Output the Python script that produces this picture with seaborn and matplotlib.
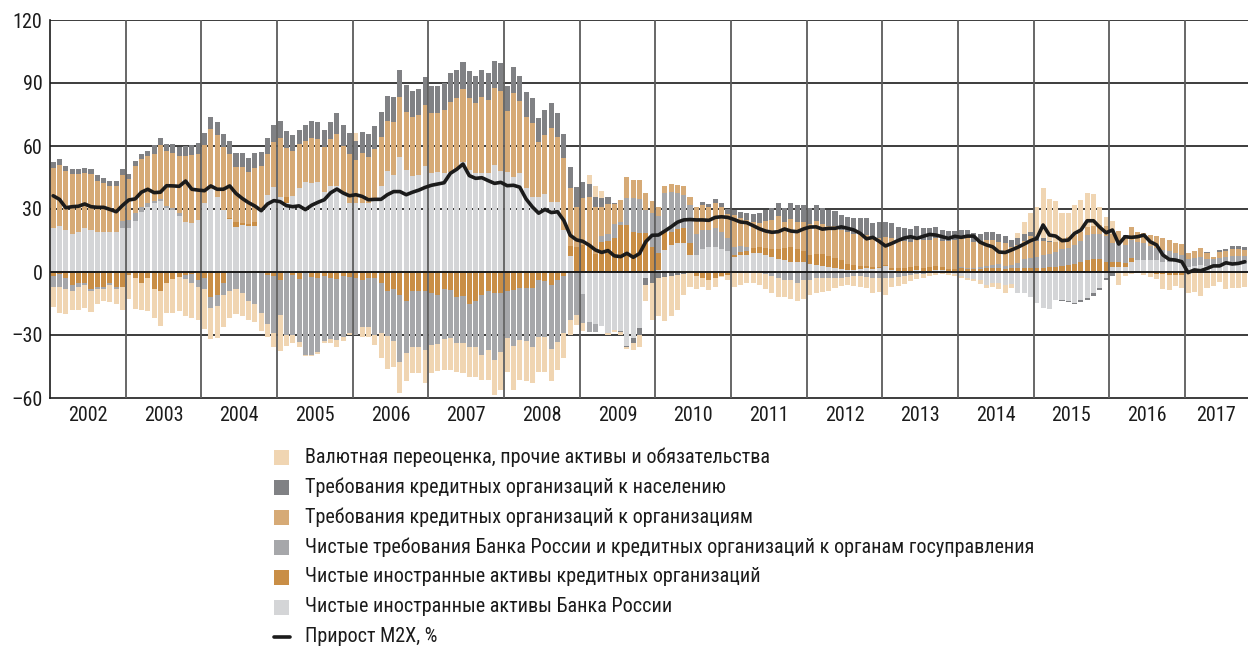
import numpy as np
import matplotlib
matplotlib.use("Agg")
import matplotlib.pyplot as plt
from matplotlib import font_manager
from matplotlib.patches import Rectangle
from matplotlib.lines import Line2D
import seaborn as sns

# ---------------- data (monthly, Jan 2002 - Oct 2017), contributions, p.p. ----------------
years = list(range(2002, 2018))

# Чистые иностранные активы Банка России
nfa_cbr = [21, 22, 20, 18, 19, 21, 20, 19, 19, 19, 19, 21,
           20.8, 24.4, 28.5, 31, 32.7, 34, 30.5, 29.5, 26.5, 24, 23.5, 25,
           32.7, 39.5, 35.9, 29.5, 25.2, 21.6, 22.5, 21.9, 22, 29.5, 36.7, 40.6,
           35.5, 33, 36, 40, 43, 42.5, 43, 38, 41, 41, 37, 33,
           33, 32.7, 33, 35, 41, 48, 46, 55, 48.6, 45.7, 46, 50.5,
           47, 47.5, 47, 47.8, 48.6, 52.5, 48.6, 47, 47.3, 47, 51, 48.3,
           47.8, 45.4, 47.3, 40.2, 35.9, 35.9, 37, 33.5, 33.5, 20, 7.5, 0,
           -10.6, -23.7, -24.6, -25.5, -29, -27.6, -28, -35, -31.6, -26.8, -3, 0,
           1, 10.5, 12.9, 13.6, 14, 8.1, 8, 11, 12, 12, 11, 10,
           7, 8, 8, 9, 9, 8, 7, 6, 5.5, 5, 5, 5,
           4, 3.5, 3, 2.5, 2, 1.5, 1, 1, 1.5, 2, 1.5, 2,
           3, 1, 0.5, 0.5, 0.5, 1, 0.5, 0.5, 1, 1, 0, -1,
           -2, -3, -3.5, -4, -6, -5, -5, -6, -5.5, -10, -10, -12,
           -14.6, -17.3, -17.8, -13.3, -13.3, -14, -14.6, -13.3, -12.5, -10.2, -7.8, -3,
           2.5, 2.5, 2.5, 5, 5.5, 5.5, 5.5, 5.5, 5, 5, 5, 5,
           2.5, 3, 3.3, 3, 3, 3, 3.5, 4, 4, 4]

# Чистые иностранные активы кредитных организаций
nfa_banks = [-2, -1, -3, -6, -5, -5, -8, -7, -7, -5, -7, -7,
             -1.4, -3, -5, -3, -8.3, -9, -5.4, -3.2, -2.2, -1.4, -1, -4,
             -3, -12, -11, -5, 0.5, 2, 1, 1, 2, -0.5, -1.5, -2,
             -3.8, 2.5, -1.5, -3.5, -0.5, -2.5, -3, -2, -3, -3.5, -2, -2.5,
             -3, -4, -3, -3, -5, -9, -8, -11, -14, -9, -9, -9,
             -10, -11, -8, -8.6, -12, -11.4, -15, -14, -11, -9, -10, -10,
             -9, -8.5, -7.5, -7.5, -7.5, -4, -4.5, -6, -4, -2, 5, 12,
             12.9, 13.5, 8.4, 14.4, 14.8, 16.4, 22.3, 22.4, 19.2, 18.7, 18.7, 12,
             8, 8.7, 6.3, 7.1, 6.8, 5.6, -2, -3, -4, -3, -2, -1.5,
             1, 1.5, 2, 2.5, 3, 3.5, 4, 5, 6, 7, 6, 5,
             4, 5, 5.5, 5, 4.5, 4, 3, 2.5, 1.5, 1, 1, 0.5,
             0.5, 1, 1.5, 1.5, 2, 2, 1.5, 2, 2, 1.5, 1.5, 1.5,
             2, 1.5, 1.5, 1.5, 2, 2, 2, 1.5, 2, 2, 2, 2,
             2, 2, 2.5, 2.5, 3, 3.5, 4, 5, 5.5, 6, 6, 5,
             2.4, 2.4, 2, 1.6, 0, 0, -0.5, -1, -1, -1.5, -1.5, -1.5,
             0, -0.5, -0.5, -0.5, -0.5, -0.5, -0.5, -0.5, -0.5, -0.5]

# Чистые требования Банка России и кредитных организаций к органам госуправления
gov = [-5, -6, -5, -3, -2, -1, -1, -1, -1, -1, -1, 3.5,
       4, 3.5, 2.5, 2, 1.3, 1, 1, 1, 1.5, -2, -4, -3,
       -5, -5, -5, -6, -9, -8, -10, -14, -15, -19, -23.3, -26.9,
       -16.7, -30, -28.5, -30, -39, -37, -35, -30.7, -28.7, -28.9, -29, -26.5,
       -27, -22, -23, -27, -24, -21.5, -25, -31.7, -24.7, -26.5, -26.5, -28,
       -24.8, -23.3, -24, -23, -22, -22.6, -20.5, -21.9, -28.5, -28, -31.9, -28,
       -22.6, -26.7, -24.9, -25.2, -28.4, -27.1, -26.3, -30.8, -29.2, -27.2, -23, -20.5,
       -13.5, -5, -4, 2.7, 3.2, 6.3, 1.6, 12.7, 15.9, 16.3, 10.6, 16,
       17.5, 18.3, 19, 16.7, 15.9, 18.3, 10, 9, 8, 9, 8, 6,
       4, 3, 2, 0, 0, -1, -2, -3, -4, -4, -5, -4,
       -4, -3, -3, -3, -3, -3, -2.5, -2, -2, -2.5, -3, -3,
       -3, -3, -2.5, -2, -1.5, -1, -1, -0.5, -0.5, 0, 0, 0,
       0.5, 0.5, 0.5, 1, 1, 1.5, 2, 1.5, 1.5, 2.5, 4, 4.5,
       5, 6, 6, 7, 8, 8, 9, 10, 12, 12, 12, 12,
       9, 9.8, 8.3, 8.7, 8.7, 8.3, 6.7, 5.9, 5.6, 4.8, 4, 3.2,
       3.5, 3.7, 4, 3.3, 3, 3.5, 3.5, 3.5, 3.5, 3.5]

# Требования кредитных организаций к организациям
corp = [28.3, 28.9, 27.9, 28.8, 27.8, 26.2, 26.8, 24.5, 23.3, 22, 22, 21.9,
        19.5, 22.6, 22.8, 22.3, 22.3, 25.4, 26.1, 26.3, 27.1, 31.4, 32.2, 31.2,
        27.8, 28.5, 29.4, 29.8, 30.3, 26.5, 26.6, 24.6, 25.5, 20.8, 19.7, 21.4,
        28.1, 23.7, 21.6, 20.9, 19.6, 21.5, 20.4, 21.4, 22.2, 24.8, 23, 23,
        20.5, 23.8, 21.6, 23.5, 23.3, 23.8, 25.5, 28.3, 27.7, 27.9, 28.8, 29,
        28.6, 28.1, 30, 33.3, 34.1, 34.5, 34.1, 33.3, 36.2, 34.9, 36.5, 38.1,
        28.8, 39.7, 34.3, 33.8, 34.9, 26.1, 28.4, 35.2, 30.7, 34.1, 27.3, 19,
        22.2, 22, 22.5, 13.8, 14.6, 9.5, 10.6, 10.3, 8.7, 8.7, 8.4, 6,
        4.5, 3.5, 3.7, 4, 4.4, 3.6, 12.8, 12, 11, 12, 12, 11.5,
        15, 13.2, 12.8, 12.1, 11.4, 13, 13.8, 15.5, 12.1, 13.2, 12.9, 13.9,
        14.8, 15.9, 14.3, 14.5, 15.2, 14.6, 15, 14.6, 15.1, 14.6, 13.2, 13.5,
        13, 14.2, 13.1, 12.8, 11.8, 12.9, 13.3, 12.8, 13.3, 12.5, 13.2, 13.7,
        13.5, 14, 12.4, 11.6, 12.1, 11.7, 10.5, 10.6, 8.5, 8.5, 9, 10.5,
        8, 7, 6, 5, 5, 5, 4.5, 4, 4, 4, 4.5, 5,
        4, 4.7, 4.3, 6, 5, 4.9, 5.4, 5.7, 5.4, 5.4, 4.7, 5,
        3.2, 3.2, 4, 2.7, 1.3, 3, 3, 3.5, 3.5, 3]

# Требования кредитных организаций к населению
households = [3.2, 2.8, 2.4, 2.2, 2.2, 2.2, 2.4, 2.5, 2.5, 2.3, 2.3, 2.5,
              2.4, 2.4, 2.4, 2.5, 4, 3.3, 3.5, 4, 4.6, 4.6, 4.6, 5.4,
              5.5, 5.7, 6, 6.3, 6.3, 6.7, 6.7, 6.8, 7, 7, 7.6, 8,
              8.4, 8.1, 7.6, 6.7, 7.6, 8, 7.9, 8.2, 8.4, 9.8, 10, 10,
              9, 10, 11, 11, 12, 12, 12, 12.7, 12.7, 12.7, 12.2, 13.5,
              13, 13, 13, 13.5, 13.5, 13, 13, 13, 12.7, 12.7, 13, 13,
              12, 12.4, 11.7, 11.9, 12.2, 11.3, 11.6, 11.9, 11.7, 11.6, 10, 9.6,
              7.6, 6.5, 4.8, 4.4, 2.9, 0.5, -0.5, -0.8, -2.4, -3.2, -3, -5,
              -3, -2.5, -2, -1.5, -1, -0.5, 0, 1.2, 1.6, 1.6, 2, 2.4,
              2.5, 3, 3.5, 4, 4.5, 5, 5.5, 6.5, 7, 7.5, 8, 8,
              7.5, 7.5, 7.5, 7.5, 7.5, 7, 7, 7.5, 7.5, 8, 7.5, 8,
              7.5, 7, 6.5, 6, 6, 6, 5.5, 5.5, 5, 5, 5, 4.5,
              4, 4, 4, 4, 3.8, 3.7, 3.6, 3.5, 3.2, 3, 3, 2,
              2, 1, 0.5, 0, -0.5, -0.5, -0.8, -1, -1, -1, -1, -0.8,
              -2, 0, 0.5, 0, 0, 0, 0, 0, 0, 0, 0, 0,
              0, 0, 0, 0.5, 0, 1, 1, 1.2, 1.2, 1.2]

# Валютная переоценка, прочие активы и обязательства
fx_other = [-9.5, -12.6, -12, -9, -11, -11, -10, -7, -6, -8.5, -7, -11,
            -11.6, -14.8, -13, -15.4, -13.7, -16.7, -14.3, -16.5, -16.4, -17.6, -17, -16,
            -19, -15, -15.5, -15, -13, -12, -11, -9, -9, -8.6, -6, -6.6,
            -17, -5, -4, -2, -0.5, -0.5, -1, -1, -2.3, -3.5, -1.7, -1,
            3.5, -5, -4.8, -4.8, -12, -15.5, -12, -15, -13.3, -12.5, -12.5, -16,
            -13.2, -12.7, -14.7, -15.1, -13.5, -14, -14.3, -13.9, -11.9, -14.4, -16.7, -18.2,
            -15.9, -21, -19, -19, -17.1, -16.4, -16.7, -15.2, -13.5, -11.8, -7, -4.7,
            -4, 4, 5.2, 3.5, -1, -1, -1.5, -1, -3.2, -5.5, -8, -18,
            -18, -21, -19, -16.5, -10, -6.7, -6, -4, -4.5, -4, -0.5, -2.5,
            -7, -6, -5, -5, -6, -7, -8, -9, -8, -9, -9, -9,
            -7, -7, -6.5, -6, -4.5, -3.5, -3.5, -4.5, -5, -5, -7, -6.4,
            -8, -4, -4, -3.5, -3, -2.5, -2, -1.5, -1, -1, -1.5, -1,
            -1, -1, -1, -1.5, -1.5, -2, -3, -4, -2, 2.4, 6, 8.9,
            13.8, 23.8, 20, 19.5, 12.3, 11.4, 14.4, 15.3, 16.3, 15.1, 8.3, 4.3,
            6.5, -6, -2, -1, -0.7, -1.4, -2, -2.5, -7, -7, -5, -6,
            -9.8, -8.9, -10.9, -7.3, -6.2, -4.1, -7.8, -7.3, -7.3, -6.8]

# Прирост М2Х, %
m2x = [36.3, 34.6, 30.6, 31.1, 31.3, 32.4, 31.1, 30.8, 30.8, 29.8, 28.7, 31.7,
       34.3, 34.8, 38, 39.4, 37.8, 38, 41.1, 41, 40.8, 43.3, 39.4, 39,
       38.7, 41, 39.4, 39.4, 41, 37.4, 35, 33, 31.4, 29.2, 32.4, 34,
       33.5, 31.6, 31.1, 31.5, 29.7, 31.8, 33.2, 34.4, 37.7, 39.5, 37.6, 36.3,
       36.8, 36, 34.4, 34.6, 34.6, 36.8, 38.3, 38.3, 36.8, 38, 39, 40.3,
       41.3, 41.9, 42.5, 47, 48.9, 51.4, 45.9, 44.6, 44.9, 43.5, 42.2, 42.7,
       41.1, 41.3, 40.4, 34.8, 31, 28, 29.8, 28.3, 28.7, 24.5, 17.5, 15.3,
       14.6, 12.8, 10.5, 9.3, 10.2, 7.7, 7.3, 8.9, 7, 8.8, 14.5, 17.5,
       17.6, 19.5, 21.5, 23.7, 24.8, 25, 24.8, 24.8, 24.6, 26, 26.3, 26,
       25, 23.8, 23.5, 22.1, 20.6, 19.5, 18.9, 19.2, 20.5, 19.5, 19.2, 20.5,
       21.4, 21.5, 20.4, 20.8, 20.8, 21.5, 20.8, 20, 18.4, 15.8, 16.5, 14.6,
       12.4, 13.6, 15, 16.2, 16.8, 16, 17, 17.9, 17.6, 16.8, 16, 17,
       16.5, 17.1, 17.1, 14.2, 12.9, 12, 9.5, 9.3, 10.5, 11.8, 13.3, 14.9,
       16, 22.4, 17.6, 17.1, 14.9, 15.2, 18.4, 20, 24.4, 24.4, 21.3, 18.7,
       20, 13.3, 16.8, 16.5, 16.8, 17.6, 14.4, 12.9, 8.1, 6, 5.7, 4.9,
       -0.3, 1, 0.6, 1.7, 2.9, 2.9, 4.4, 3.8, 4.1, 4.9]

labels = ["Валютная переоценка, прочие активы и обязательства",
          "Требования кредитных организаций к населению",
          "Требования кредитных организаций к организациям",
          "Чистые требования Банка России и кредитных организаций к органам госуправления",
          "Чистые иностранные активы кредитных организаций",
          "Чистые иностранные активы Банка России"]
line_label = "Прирост М2Х, %"
ytick_vals = [-60, -30, 0, 30, 60, 90, 120]
ytick_labels = ["–60", "–30", "0", "30", "60", "90", "120"]

# ---------------- style ----------------
C_LG, C_ORG, C_GOV, C_CORP, C_HH, C_FX = "#D4D5D7", "#C98E46", "#A6A7AA", "#D6AA76", "#808184", "#F0D5B2"

available = {f.name for f in font_manager.fontManager.ttflist}
if "Liberation Sans Narrow" in available:
    FONT, FS = "Liberation Sans Narrow", 15.5
elif "Roboto Condensed" in available:
    FONT, FS = "Roboto Condensed", 14.5
else:
    FONT, FS = "Liberation Sans", 12.5

sns.set_style("white")
plt.rcParams["font.family"] = [FONT, "DejaVu Sans"]

W, H = 1248, 646
fig = plt.figure(figsize=(W / 100, H / 100), dpi=100)
ax = fig.add_axes([50 / W, 1 - 398 / H, 1198 / W, 378 / H])

series = np.array([nfa_cbr, nfa_banks, gov, corp, households, fx_other], dtype=float)
colors = [C_LG, C_ORG, C_GOV, C_CORP, C_HH, C_FX]
n = series.shape[1]
months = np.arange(n)

cum_pos = np.cumsum(np.clip(series, 0, None), axis=0)
cum_neg = np.cumsum(np.clip(series, None, 0), axis=0)

for cum in (cum_pos, cum_neg):
    for i in reversed(range(len(colors))):
        sns.barplot(x=months, y=cum[i], color=colors[i], width=0.8, native_scale=True,
                    saturation=1, linewidth=0, errorbar=None, ax=ax, zorder=2)

sns.lineplot(x=months, y=np.array(m2x), color="#1b1b1b", linewidth=2.6, ax=ax, zorder=6)

# grid lines
for v in [120, 90, 60, 30, -30]:
    ax.axhline(v, color="#1b1b1b", lw=1.2, zorder=1)
ax.axhline(0, color="#1b1b1b", lw=1.4, zorder=5)
bounds = 11.5 + 12 * np.arange(len(years) - 1)
for b in bounds:
    ax.axvline(b, color="#5c5c5c", lw=1.3, zorder=3)

ax.set_xlim(-0.5, n - 0.5)
ax.set_ylim(-60, 120)
ax.set_xlabel("")
ax.set_ylabel("")

ax.set_xticks(np.concatenate([[-0.5], bounds]))
ax.set_xticklabels([])
centers = [12 * i + 5.5 for i in range(len(years) - 1)] + [12 * (len(years) - 1) + (n - 12 * (len(years) - 1) - 1) / 2]
ax.set_xticks(centers, minor=True)
ax.set_xticklabels([str(y) for y in years], minor=True)
ax.tick_params(axis="x", which="major", length=5, width=1.1, color="#1b1b1b", direction="out")
ax.tick_params(axis="x", which="minor", length=0, pad=6, labelsize=FS, colors="#1b1b1b")

ax.set_yticks(ytick_vals)
ax.set_yticklabels(ytick_labels)
ax.tick_params(axis="y", length=3.5, width=1.1, color="#1b1b1b", pad=2, labelsize=FS, labelcolor="#1b1b1b")

for s in ["top", "right"]:
    ax.spines[s].set_visible(False)
for s in ["left", "bottom"]:
    ax.spines[s].set_color("#1b1b1b")
    ax.spines[s].set_linewidth(1.2)
ax.grid(False)

# legend (manual, figure coordinates)
leg_colors = [C_FX, C_HH, C_CORP, C_GOV, C_ORG, C_LG]
for i, (lab, col) in enumerate(zip(labels, leg_colors)):
    yc = 457 + 30 * i
    fig.add_artist(Rectangle((274 / W, 1 - (yc + 7.5) / H), 15 / W, 15 / H,
                             transform=fig.transFigure, facecolor=col, edgecolor="none"))
    fig.text(305 / W, 1 - yc / H, lab, fontsize=FS, va="center", ha="left", color="#1b1b1b")
yc = 457 + 30 * 6
fig.add_artist(Line2D([274 / W, 290 / W], [1 - yc / H, 1 - yc / H], transform=fig.transFigure,
                      color="#1b1b1b", lw=2.6))
fig.text(305 / W, 1 - yc / H, line_label, fontsize=FS, va="center", ha="left", color="#1b1b1b")

fig.savefig("out.png", dpi=100)
